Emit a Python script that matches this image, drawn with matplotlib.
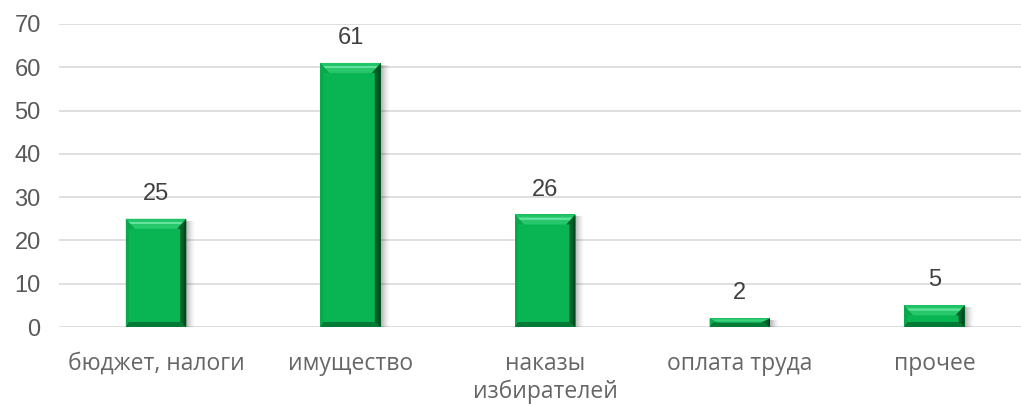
import matplotlib
matplotlib.use("Agg")
import matplotlib.pyplot as plt
from matplotlib.patches import Polygon, Rectangle

categories = ["бюджет, налоги", "имущество", "наказы\nизбирателей", "оплата труда", "прочее"]
values = [25, 61, 26, 2, 5]
yticks = [0, 10, 20, 30, 40, 50, 60, 70]

W, H = 1021, 405
fig = plt.figure(figsize=(W / 100, H / 100), dpi=100)
left_px, right_px, top_px, bottom_px = 58.7, 1021, 24, 327
ax = fig.add_axes([left_px / W, 1 - bottom_px / H, (right_px - left_px) / W, (bottom_px - top_px) / H])

spacing_px = 194.6
x = list(range(len(categories)))
ax.set_xlim(-0.5, -0.5 + (right_px - left_px) / spacing_px)
ax.set_ylim(0, 70)

bw = 0.31
main = "#08b552"
bars = ax.bar(x, values, width=bw, color=main, edgecolor="none", zorder=3)

px_x = 1 / spacing_px
px_y = 70 / (bottom_px - top_px)


def band(pts, color, z=4):
    ax.add_patch(Polygon(pts, closed=True, color=color, lw=0, zorder=z))


for b in bars:
    x0 = b.get_x(); x1 = x0 + b.get_width(); h = b.get_height()
    # shadow to the right
    for i in range(9):
        a = 0.28 * (1 - i / 9) ** 1.5
        ax.add_patch(Rectangle((x1 + i * px_x, 0), px_x, max(h - 2 * px_y, 0), color="#000000",
                               alpha=a, lw=0, zorder=2))
    bt = min(10 * px_y, h / 2)      # top bevel height
    bb = min(5 * px_y, h / 2)       # bottom bevel height
    bxl = 9 * px_x                  # horizontal top bevel inset
    br = 6 * px_x                   # right bevel width
    bl = 3 * px_x                   # left bevel width
    fr = [(0.0, 0.3, "#22c468"), (0.3, 0.55, "#62e29c"), (0.55, 1.0, "#27c86b")]
    for f0, f1, c in fr:
        band([(x0 + bxl * f0, h - bt * f0), (x1 - bxl * f0, h - bt * f0),
              (x1 - bxl * f1, h - bt * f1), (x0 + bxl * f1, h - bt * f1)], c)
    band([(x0, 0), (x1, 0), (x1 - br, bb), (x0 + bl, bb)], "#047a37")
    band([(x1, 0), (x1, h), (x1 - bxl, h - bt), (x1 - br, h - bt), (x1 - br, bb)], "#01612a", 5)
    band([(x1, 0), (x1, h), (x1 - br * 0.4, h - bt * 0.5), (x1 - br * 0.4, bb * 0.4)], "#004a1f", 6)
    band([(x0, 0), (x0, h), (x0 + bxl, h - bt), (x0 + bl, h - bt), (x0 + bl, bb)], "#0aa84d", 3.5)
    ax.annotate(f"{int(h)}", (b.get_x() + b.get_width() / 2, h), xytext=(0, 10),
                textcoords="offset points", ha="center", va="bottom",
                fontsize=17, color="#404040", family="Liberation Sans")

ax.set_yticks(yticks)
ax.set_yticklabels([str(t) for t in yticks], fontsize=17, color="#595959", family="Liberation Sans")
ax.set_xticks(x)
ax.set_xticklabels(categories, fontsize=16.5, color="#666666", family="Open Sans", linespacing=1.22)
ax.tick_params(axis="both", length=0)
ax.tick_params(axis="y", pad=13)
ax.tick_params(axis="x", pad=18)
ax.grid(axis="y", color="#d9d9d9", lw=1.2, zorder=0)
ax.set_axisbelow(True)
for s in ax.spines.values():
    s.set_visible(False)

fig.savefig("out.png", dpi=100)
